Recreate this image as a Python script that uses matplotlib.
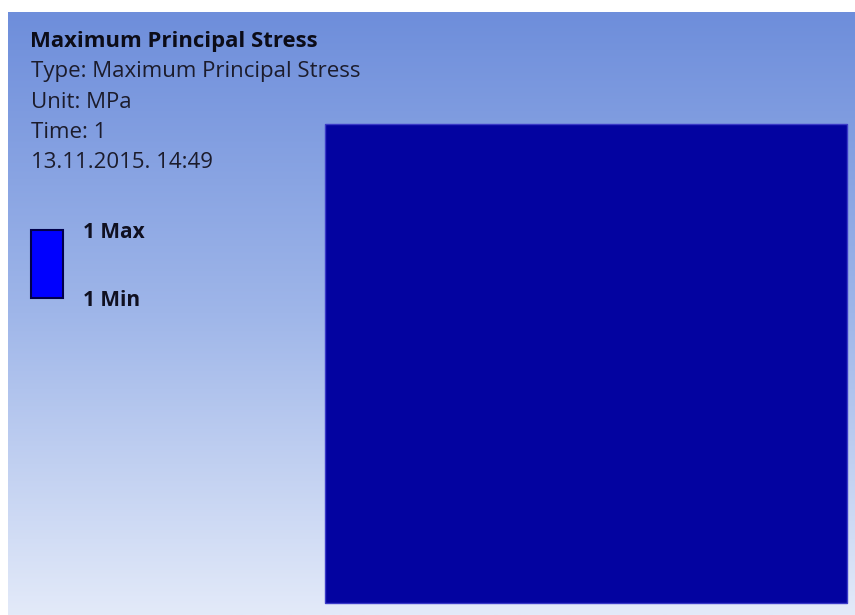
import numpy as np
import matplotlib
matplotlib.use("Agg")
import matplotlib.pyplot as plt
from matplotlib.colors import LinearSegmentedColormap
from matplotlib.patches import Rectangle

# header text of the result
title = "Maximum Principal Stress"
info_lines = ["Type: Maximum Principal Stress", "Unit: MPa", "Time: 1", "13.11.2015. 14:49"]
# legend values
legend_max = 1
legend_min = 1
# background gradient, top -> bottom
bg_colors = ["#6e8edb", "#9fb6e9", "#e3eaf9"]
model_color = "#0303a0"
legend_color = "#0000ff"

W, H = 855, 615
fig = plt.figure(figsize=(W / 100, H / 100), dpi=100)
ax = fig.add_axes([0, 0, 1, 1])
ax.set_xlim(0, W)
ax.set_ylim(H, 0)
ax.axis("off")

cmap = LinearSegmentedColormap.from_list("bg", bg_colors)
grad = np.linspace(0, 1, 256).reshape(-1, 1)
ax.imshow(grad, cmap=cmap, aspect="auto", extent=(8, W, H, 12), zorder=0)

# the model (uniform stress)
ax.add_patch(Rectangle((325, 124), 522, 479, facecolor=model_color,
                       edgecolor="#3a3ac8", lw=1, zorder=2))

font = "Open Sans"
ax.text(30, 47, title, fontsize=15.9, fontweight="bold", family=font,
        color="#0c0c18", va="baseline", ha="left")
for i, line in enumerate(info_lines):
    ax.text(31, 77 + i * 30.5, line, fontsize=16, family=font,
            color="#1c1c2c", va="baseline", ha="left")

# legend bar
ax.add_patch(Rectangle((31, 230), 32, 68, facecolor=legend_color,
                       edgecolor="#00004a", lw=1.5, zorder=2))
ax.text(83, 238, f"{legend_max} Max", fontsize=15, fontweight="bold", family=font,
        color="#101020", va="baseline", ha="left")
ax.text(83, 306, f"{legend_min} Min", fontsize=15, fontweight="bold", family=font,
        color="#101020", va="baseline", ha="left")

fig.savefig("out.png", dpi=100, facecolor="white")
